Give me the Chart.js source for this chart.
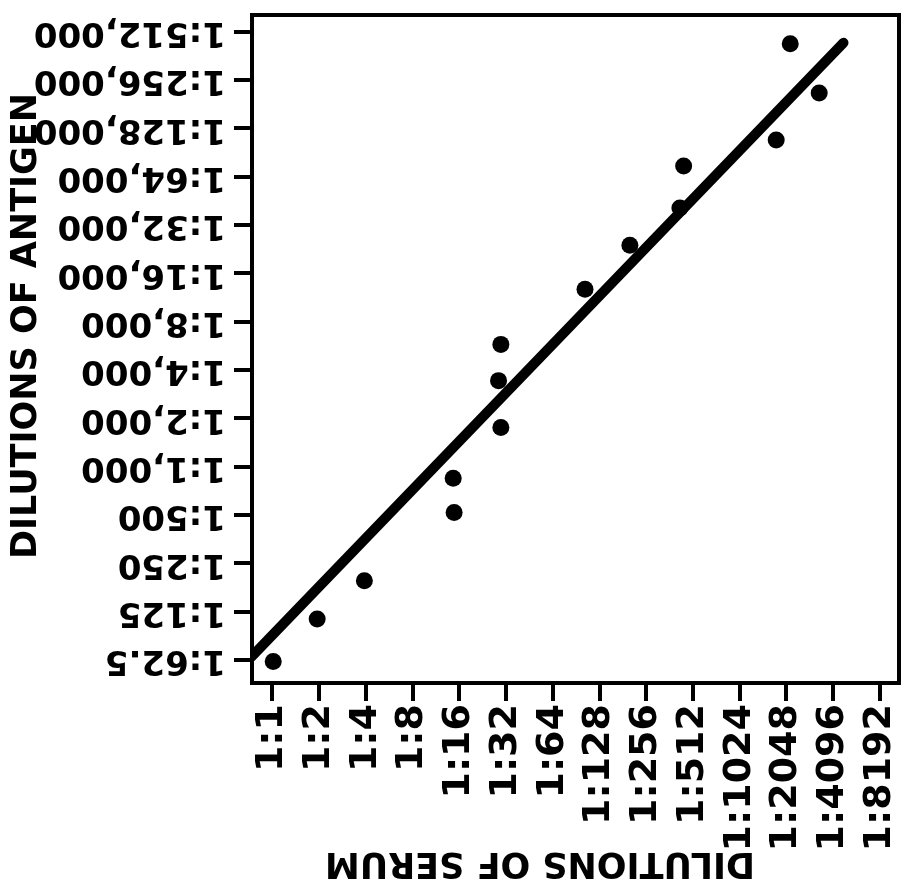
<!DOCTYPE html>
<html>
<head>
<meta charset="utf-8">
<script src="https://cdn.jsdelivr.net/npm/chart.js@4/dist/chart.umd.min.js"></script>
<style>
  html, body { margin: 0; padding: 0; background: #fff; }
  #wrap { width: 901px; height: 886px; position: relative; }
</style>
</head>
<body>
<div id="wrap"><canvas id="chart"></canvas></div>
<script>
// tick labels, one per two-fold dilution step
const serumLabels = ['1:1', '1:2', '1:4', '1:8', '1:16', '1:32', '1:64', '1:128',
  '1:256', '1:512', '1:1024', '1:2048', '1:4096', '1:8192'];
const antigenLabels = ['1:62.5', '1:125', '1:250', '1:500', '1:1,000', '1:2,000', '1:4,000',
  '1:8,000', '1:16,000', '1:32,000', '1:64,000', '1:128,000', '1:256,000', '1:512,000'];

// observed points, in dilution steps (0 = 1:1 serum / 1:62.5 antigen)
const serumStep = [0.02, 0.96, 1.97, 3.87, 3.89, 4.89, 4.84, 4.89, 6.69, 7.65, 8.72, 8.80, 10.78, 11.08, 11.70];
const antigenStep = [-0.03, 0.85, 1.64, 3.76, 3.05, 4.81, 5.78, 6.53, 7.67, 8.58, 9.35, 10.22, 10.76, 12.75, 11.73];

// fitted line end points
const fitSerum = [-0.45, 12.22];
const fitAntigen = [0.06, 12.77];

const FONT = '"DejaVu Sans", sans-serif';
const PLOT_RIGHT = 899;

const stepTicks = (labels) => (scale) => {
  scale.ticks = labels.map((_, i) => ({ value: i }));
};

// frame, upside-down antigen labels and the two axis titles
const paperPlugin = {
  id: 'paper',
  afterLayout(chart) {
    // stretch the plot box out to the right edge like the original
    const a = chart.chartArea;
    const xs = chart.scales.x;
    a.right = PLOT_RIGHT;
    a.width = a.right - a.left;
    xs.right = PLOT_RIGHT;
    xs.width = xs.right - xs.left;
    xs.configure();
  },
  afterDraw(chart) {
    const { ctx, chartArea: a } = chart;
    const y = chart.scales.y;
    ctx.save();
    ctx.strokeStyle = '#000';
    ctx.lineWidth = 4;
    ctx.strokeRect(a.left, a.top, a.right - a.left, a.bottom - a.top);

    ctx.fillStyle = '#000';
    ctx.font = 'bold 34px ' + FONT;
    ctx.textAlign = 'left';
    ctx.textBaseline = 'middle';
    antigenLabels.forEach((lab, i) => {
      ctx.save();
      ctx.translate(226, y.getPixelForValue(i));
      ctx.rotate(Math.PI);
      ctx.fillText(lab, 0, 0);
      ctx.restore();
    });

    ctx.font = 'bold 35px ' + FONT;
    ctx.textAlign = 'center';
    ctx.save();
    ctx.translate(27, 326);
    ctx.rotate(-Math.PI / 2);
    ctx.fillText('DILUTIONS OF ANTIGEN', 0, 0);
    ctx.restore();

    ctx.save();
    ctx.translate(540, 862);
    ctx.rotate(Math.PI);
    ctx.fillText('DILUTIONS OF SERUM', 0, 0);
    ctx.restore();
    ctx.restore();
  }
};

new Chart(document.getElementById('chart'), {
  type: 'scatter',
  data: {
    datasets: [
      {
        type: 'line',
        data: fitSerum.map((x, i) => ({ x, y: fitAntigen[i] })),
        borderColor: '#000',
        borderWidth: 10,
        borderCapStyle: 'round',
        pointRadius: 0,
        fill: false
      },
      {
        data: serumStep.map((x, i) => ({ x, y: antigenStep[i] })),
        backgroundColor: '#000',
        borderColor: '#000',
        pointRadius: 8.5,
        pointBorderWidth: 0
      }
    ]
  },
  options: {
    responsive: true,
    maintainAspectRatio: false,
    animation: false,
    layout: { padding: { top: 15, right: 2, left: 0, bottom: 0 } },
    plugins: {
      legend: { display: false },
      tooltip: { enabled: false }
    },
    scales: {
      x: {
        type: 'linear',
        min: -0.434,
        max: 13.407,
        afterBuildTicks: stepTicks(serumLabels),
        afterFit: (scale) => {
          scale.height = 203;
          scale.paddingLeft = 0;
          scale.paddingRight = 0;
        },
        border: { display: false },
        grid: {
          drawOnChartArea: false,
          drawTicks: true,
          tickLength: 18,
          lineWidth: 4,
          color: '#000'
        },
        ticks: {
          minRotation: 90,
          maxRotation: 90,
          autoSkip: false,
          padding: 3,
          color: '#000',
          font: { family: FONT, size: 38, weight: 'bold' },
          callback: (v) => serumLabels[v]
        }
      },
      y: {
        type: 'linear',
        min: -0.476,
        max: 13.345,
        afterBuildTicks: stepTicks(antigenLabels),
        afterFit: (scale) => {
          scale.width = 252;
          scale.paddingTop = 0;
          scale.paddingBottom = 0;
        },
        border: { display: false },
        grid: {
          drawOnChartArea: false,
          drawTicks: true,
          tickLength: 18,
          lineWidth: 4,
          color: '#000'
        },
        ticks: { display: false }
      }
    }
  },
  plugins: [paperPlugin]
});
</script>
</body>
</html>
